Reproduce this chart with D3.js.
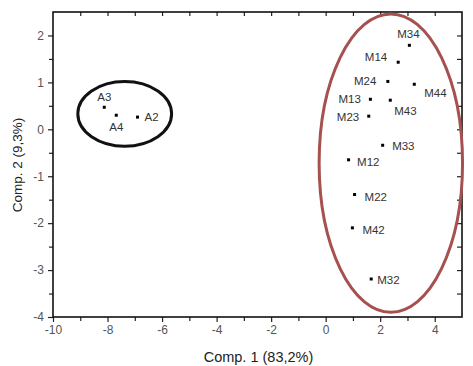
<!DOCTYPE html>
<html>
<head>
<meta charset="utf-8">
<script src="https://cdn.jsdelivr.net/npm/d3@7"></script>
<style>
  body { margin: 0; background: #fff; }
  text { font-family: "Liberation Sans", Arial, sans-serif; }
</style>
</head>
<body>
<svg width="473" height="366"></svg>
<script>
// sample names and PCA scores
var names = ["A3", "A4", "A2", "M34", "M14", "M24", "M44", "M13", "M43", "M23", "M33", "M12", "M22", "M42", "M32"];
var comp1 = [-8.12, -7.68, -6.9, 3.07, 2.66, 2.28, 3.25, 1.64, 2.37, 1.58, 2.09, 0.84, 1.06, 0.98, 1.67];
var comp2 = [0.47, 0.30, 0.26, 1.79, 1.43, 1.02, 0.96, 0.64, 0.62, 0.28, -0.34, -0.65, -1.39, -2.10, -3.19];

var xTicks = [-10, -8, -6, -4, -2, 0, 2, 4];
var yTicks = [-4, -3, -2, -1, 0, 1, 2];

// group ellipses: [cx, cy, rx, ry] in data units
var groupA = [-7.37, 0.33, 1.72, 0.69];
var groupM = [2.39, -0.72, 2.63, 3.18];

// where each label sits next to its point
var labelPos = {
  A3: [0, -6, "middle"], A4: [0, 16, "middle"], A2: [7, 4, "start"],
  M34: [-1, -7, "middle"], M14: [-11, -1, "end"], M24: [-11.5, 4, "end"],
  M44: [10, 12.5, "start"], M13: [-9.5, 4, "end"], M43: [4, 15, "start"],
  M23: [-9.5, 5, "end"], M33: [9.5, 4.5, "start"], M12: [8.5, 6.5, "start"],
  M22: [10, 6, "start"], M42: [10, 6.3, "start"], M32: [6, 4.7, "start"]
};

var svg = d3.select("svg");
var pLeft = 53, pRight = 462, pTop = 12, pBottom = 317;

var x = d3.scaleLinear().domain([-10, 5]).range([pLeft, pRight]);
var y = d3.scaleLinear().domain([-4, 2.5]).range([pBottom, pTop]);
var fmt = function(d) { return String(d); };

// minor ticks
svg.append("g")
  .attr("transform", "translate(0," + pBottom + ")")
  .call(d3.axisBottom(x).tickValues(d3.range(-9, 5, 2)).tickSize(4).tickFormat(""));
svg.append("g")
  .attr("transform", "translate(" + pLeft + ",0)")
  .call(d3.axisLeft(y).tickValues(d3.range(-3.5, 2.5, 1)).tickSize(4).tickFormat(""));

// major ticks with labels
svg.append("g")
  .attr("transform", "translate(0," + pBottom + ")")
  .call(d3.axisBottom(x).tickValues(xTicks).tickSize(5).tickPadding(3).tickFormat(fmt));
svg.append("g")
  .attr("transform", "translate(" + pLeft + ",0)")
  .call(d3.axisLeft(y).tickValues(yTicks).tickSize(5).tickPadding(4).tickFormat(fmt));

// mirrored axes with inward ticks
svg.append("g")
  .attr("transform", "translate(0," + pTop + ")")
  .call(d3.axisBottom(x).tickValues(d3.range(-9, 5, 1)).tickSize(4).tickFormat(""));
svg.append("g")
  .attr("transform", "translate(" + pRight + ",0)")
  .call(d3.axisLeft(y).tickValues(d3.range(-3.5, 2.5, 0.5)).tickSize(5).tickFormat(""));

svg.selectAll(".domain").remove();
svg.selectAll(".tick line").attr("stroke", "#222").attr("stroke-width", 1.2);
svg.selectAll(".tick text").attr("fill", "#555").style("font-size", "12px")
  .style("font-family", "'Liberation Sans', Arial, sans-serif");

// frame
svg.append("rect")
  .attr("x", pLeft).attr("y", pTop)
  .attr("width", pRight - pLeft).attr("height", pBottom - pTop)
  .attr("fill", "none").attr("stroke", "#111").attr("stroke-width", 1.6);

// axis titles
svg.append("text")
  .attr("x", (pLeft + pRight) / 2 + 1).attr("y", 362)
  .attr("text-anchor", "middle").attr("fill", "#222")
  .style("font-size", "14.5px")
  .text("Comp. 1 (83,2%)");
svg.append("text")
  .attr("transform", "translate(22,165) rotate(-90)")
  .attr("text-anchor", "middle").attr("fill", "#222")
  .style("font-size", "13.5px")
  .text("Comp. 2 (9,3%)");

// group ellipses
svg.append("ellipse")
  .attr("cx", x(groupA[0])).attr("cy", y(groupA[1]))
  .attr("rx", x(groupA[2]) - x(0)).attr("ry", y(0) - y(groupA[3]))
  .attr("fill", "none").attr("stroke", "#111").attr("stroke-width", 3);
svg.append("ellipse")
  .attr("cx", x(groupM[0])).attr("cy", y(groupM[1]))
  .attr("rx", x(groupM[2]) - x(0)).attr("ry", y(0) - y(groupM[3]))
  .attr("fill", "none").attr("stroke", "#a6504f").attr("stroke-width", 3);

// points and labels
var pts = names.map(function(n, i) { return { name: n, c1: comp1[i], c2: comp2[i] }; });

svg.selectAll(".pt").data(pts).enter().append("rect")
  .attr("class", "pt")
  .attr("x", function(d) { return x(d.c1) - 1.5; })
  .attr("y", function(d) { return y(d.c2) - 1.5; })
  .attr("width", 3).attr("height", 3)
  .attr("fill", "#000");

svg.selectAll(".lbl").data(pts).enter().append("text")
  .attr("class", "lbl")
  .attr("x", function(d) { return x(d.c1) + labelPos[d.name][0]; })
  .attr("y", function(d) { return y(d.c2) + labelPos[d.name][1]; })
  .attr("text-anchor", function(d) { return labelPos[d.name][2]; })
  .attr("fill", "#333")
  .style("font-size", "11.5px")
  .text(function(d) { return d.name; });
</script>
</body>
</html>
